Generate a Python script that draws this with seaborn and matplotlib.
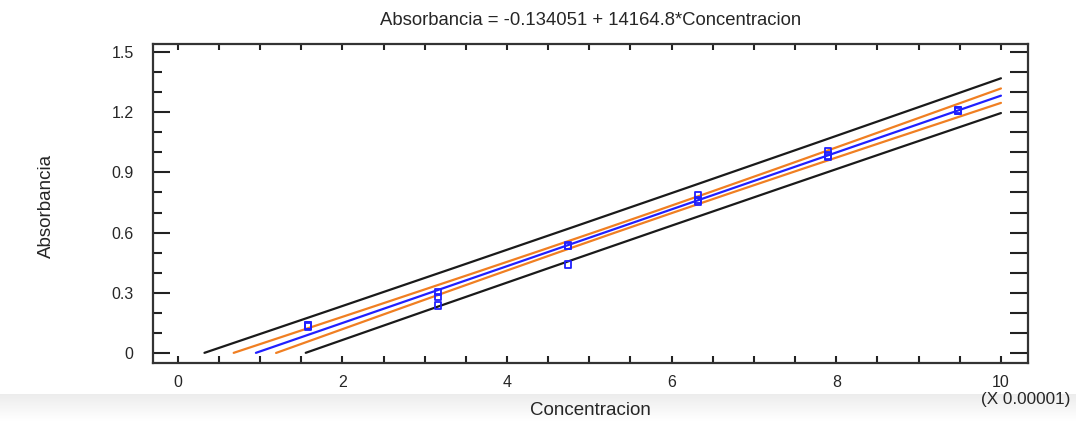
import numpy as np
import pandas as pd
import matplotlib
matplotlib.use("Agg")
import matplotlib.pyplot as plt
import seaborn as sns

# ---- data (concentration in mol/L, absorbance) ----
concentracion = [1.58e-5, 1.58e-5, 1.58e-5,
                 3.16e-5, 3.16e-5, 3.16e-5,
                 4.74e-5, 4.74e-5, 4.74e-5,
                 6.32e-5, 6.32e-5, 6.32e-5,
                 7.90e-5, 7.90e-5, 7.90e-5,
                 9.48e-5, 9.48e-5, 9.48e-5]
absorbancia = [0.132, 0.136, 0.138,
               0.304, 0.278, 0.236,
               0.536, 0.532, 0.440,
               0.788, 0.762, 0.756,
               1.003, 0.985, 0.978,
               1.208, 1.205, 1.210]

# fitted model (from title) and band statistics
INTERCEPT = -0.134051
SLOPE = 14164.8
RESID_SD = 0.0372
T_CRIT = 2.12

x_ticks = [0, 2, 4, 6, 8, 10]
y_ticks = [0, 0.3, 0.6, 0.9, 1.2, 1.5]
title = "Absorbancia = -0.134051 + 14164.8*Concentracion"
SCALE = 1e-5

# ---- computations ----
xs = np.array(concentracion) / SCALE
n = len(xs)
xbar = xs.mean()
sxx = ((xs - xbar) ** 2).sum()
grid = np.linspace(0, 10, 2001)
fit = INTERCEPT + SLOPE * grid * SCALE
ts = T_CRIT * RESID_SD
conf = ts * np.sqrt(1 / n + (grid - xbar) ** 2 / sxx)
pred = ts * np.sqrt(1 + 1 / n + (grid - xbar) ** 2 / sxx)

def clip(v):
    v = v.copy()
    v[v < 0] = np.nan
    return v

sns.set_theme(style="white")
plt.rcParams["font.family"] = ["Liberation Sans", "DejaVu Sans"]

fig = plt.figure(figsize=(10.76, 4.21), dpi=100)
# light gray band at bottom (screenshot background)
bg = fig.add_axes([0, 0, 1, 0.065], zorder=-5)
grad = np.linspace(1, 0, 50).reshape(-1, 1)
bg.imshow(grad, aspect="auto", cmap=matplotlib.colors.LinearSegmentedColormap.from_list("g", ["#ffffff", "#ececec"]),
          extent=[0, 1, 0, 1], vmin=0, vmax=1)
bg.axis("off")

ax = fig.add_axes([0.1422, 0.1378, 0.8133, 0.7577])

BLACK = "#1a1a1a"
ORANGE = "#f07f22"
BLUE = "#2020ff"
lw = 1.6

sns.lineplot(x=grid, y=clip(fit + pred), ax=ax, color=BLACK, lw=lw)
sns.lineplot(x=grid, y=clip(fit - pred), ax=ax, color=BLACK, lw=lw)
sns.lineplot(x=grid, y=clip(fit + conf), ax=ax, color=ORANGE, lw=lw)
sns.lineplot(x=grid, y=clip(fit - conf), ax=ax, color=ORANGE, lw=lw)
sns.lineplot(x=grid, y=clip(fit), ax=ax, color=BLUE, lw=lw)

df = pd.DataFrame({"x": xs, "y": absorbancia})
sns.scatterplot(data=df, x="x", y="y", ax=ax, marker="s", s=22,
                facecolor="none", edgecolor=BLUE, linewidth=1.3, zorder=5)

ax.set_xlim(-0.3, 10.33)
ax.set_ylim(-0.05, 1.54)
ax.set_xticks(x_ticks)
ax.set_xticklabels([str(t) for t in x_ticks])
ax.set_yticks(y_ticks)
ax.set_yticklabels([("%g" % t) for t in y_ticks])
ax.set_xticks(np.arange(0, 10.01, 0.5), minor=True)
ax.set_yticks(np.arange(0, 1.51, 0.1), minor=True)

for s in ax.spines.values():
    s.set_color("#333333")
    s.set_linewidth(1.6)

ax.tick_params(axis="y", which="major", direction="in", length=12, width=1.5,
               color="#222222", labelsize=11.5, pad=14, left=True, right=False)
ax.tick_params(axis="y", which="minor", direction="in", length=6.5, width=1.5,
               color="#222222", left=True, right=False)
ax.tick_params(axis="x", which="both", direction="in", length=5, width=1.5,
               color="#222222", labelsize=11.5, pad=9, bottom=True, top=False)

sec_y = ax.secondary_yaxis("right")
sec_y.set_yticks(np.arange(0, 1.51, 0.1))
sec_y.tick_params(direction="in", length=13, width=1.5, color="#222222", labelright=False)
sec_x = ax.secondary_xaxis("top")
sec_x.set_xticks(np.arange(0, 10.01, 0.5))
sec_x.tick_params(direction="in", length=4.5, width=1.5, color="#222222", labeltop=False)
for sp in list(sec_y.spines.values()) + list(sec_x.spines.values()):
    sp.set_visible(False)

ax.set_xlabel("")
ax.set_ylabel("")
fig.text(0.5485, 0.952, title, ha="center", va="center", fontsize=13.3)
fig.text(0.043, 0.511, "Absorbancia", ha="center", va="center", rotation=90, fontsize=13.5)
fig.text(0.5485, 0.026, "Concentracion", ha="center", va="center", fontsize=13.5)
fig.text(0.953, 0.05, "(X 0.00001)", ha="center", va="center", fontsize=12.3)

fig.savefig("out.png", dpi=100)
